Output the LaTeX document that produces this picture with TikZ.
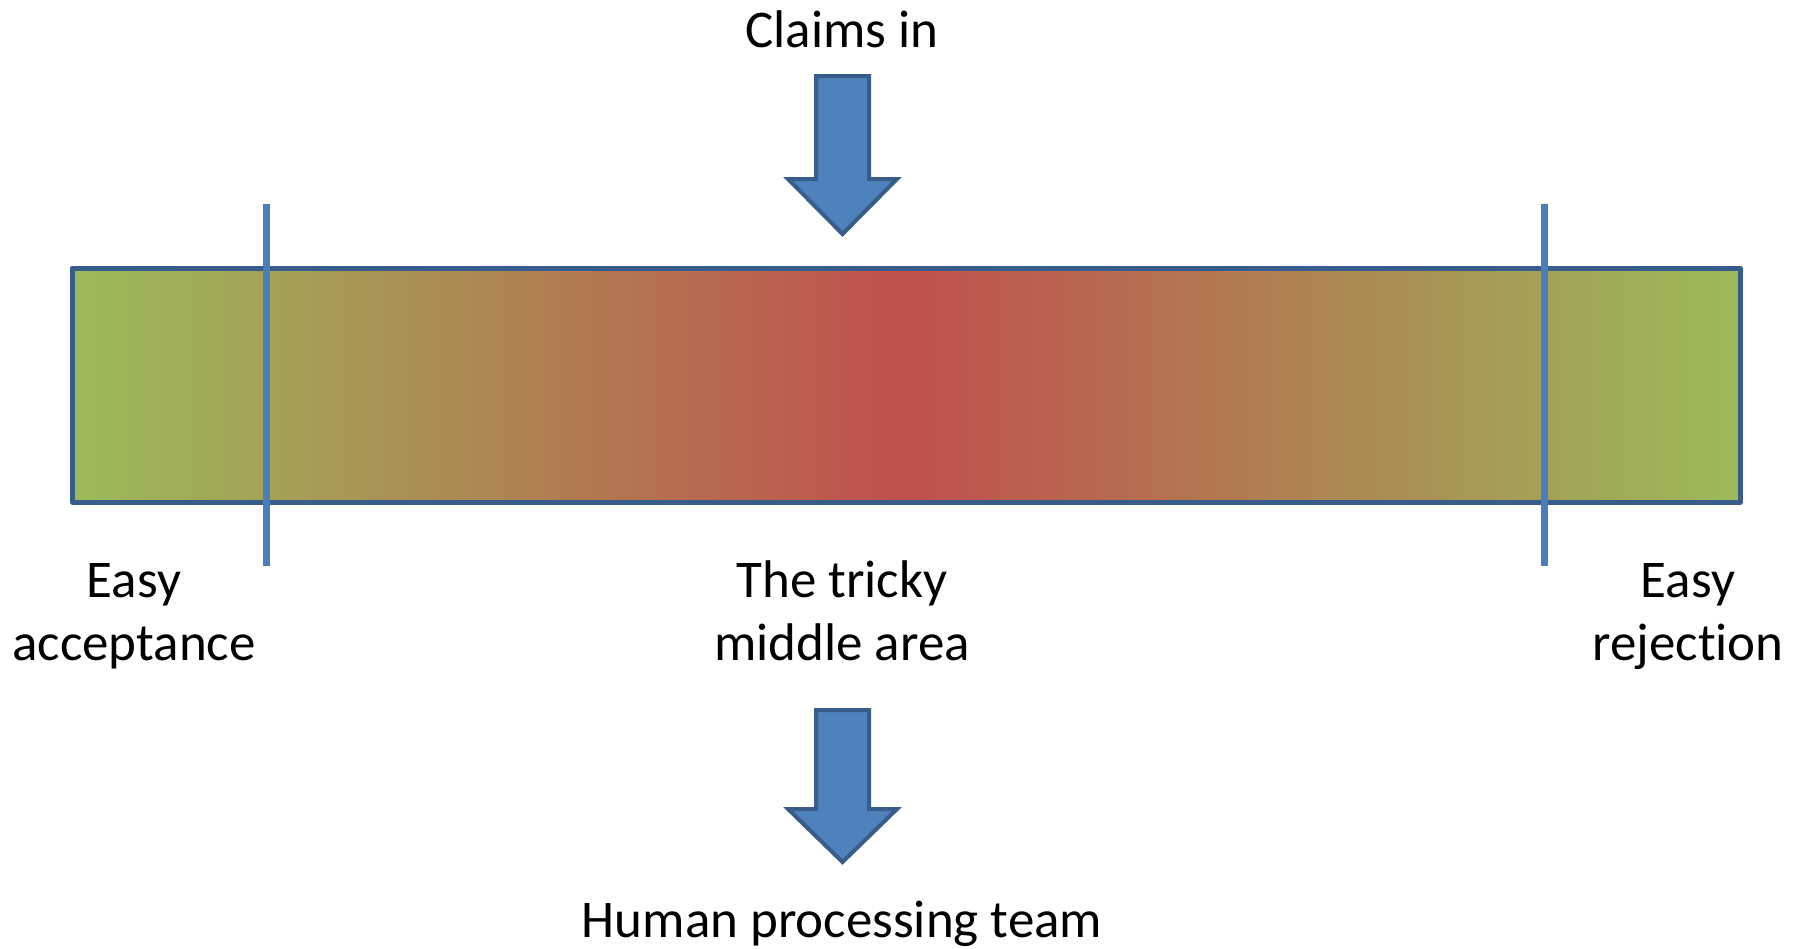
\documentclass[tikz,border=0pt]{standalone}
\usepackage{fontspec}
\setmainfont{Carlito}[Ligatures={NoCommon}]
\definecolor{barGreen}{HTML}{9BBB59}
\definecolor{barRed}{HTML}{C0504D}
\definecolor{outlineBlue}{HTML}{385D8A}
\definecolor{fillBlue}{HTML}{4F81BD}
\definecolor{lineBlue}{HTML}{4A7EBB}
\tikzset{
  lbl/.style={font=\fontsize{53}{63}\selectfont, align=center, inner sep=0pt, anchor=base},
  blockarrow/.style={fill=fillBlue, draw=outlineBlue, line width=4pt, line join=miter},
  divider/.style={draw=lineBlue, line width=7pt},
  barstyle/.style={draw=outlineBlue, line width=5pt, left color=barGreen, right color=barGreen, middle color=barRed, line join=round}
}
\begin{document}
\begin{tikzpicture}[x=1pt,y=-1pt]
\useasboundingbox (0,0) rectangle (1802,948);
% bar
\path[barstyle] (72,268) rectangle (1740,502);
\coordinate (bar) at (906,385);
% dividers
\coordinate (l1) at (266,204); \coordinate (l2) at (266,566);
\coordinate (r1) at (1544,204); \coordinate (r2) at (1544,566);
\draw[divider] (l1) -- (l2);
\draw[divider] (r1) -- (r2);
% top arrow
\path[blockarrow] (816,76) -- (869,76) -- (869,179) -- (897,179) -- (842.5,234) -- (788,179) -- (816,179) -- cycle;
% bottom arrow
\path[blockarrow] (816,710) -- (869,710) -- (869,809) -- (897,809) -- (842.5,862) -- (788,809) -- (816,809) -- cycle;
% labels
\node[lbl] (claims) at (842,47) {Claims in};
\node[lbl] (acc) at (134,660) {Easy\\acceptance};
\node[lbl] (mid) at (842,660) {The tricky\\middle area};
\node[lbl] (rej) at (1688,660) {Easy\\rejection};
\node[lbl] (team) at (842,937) {Human processing team};
\end{tikzpicture}
\end{document}
